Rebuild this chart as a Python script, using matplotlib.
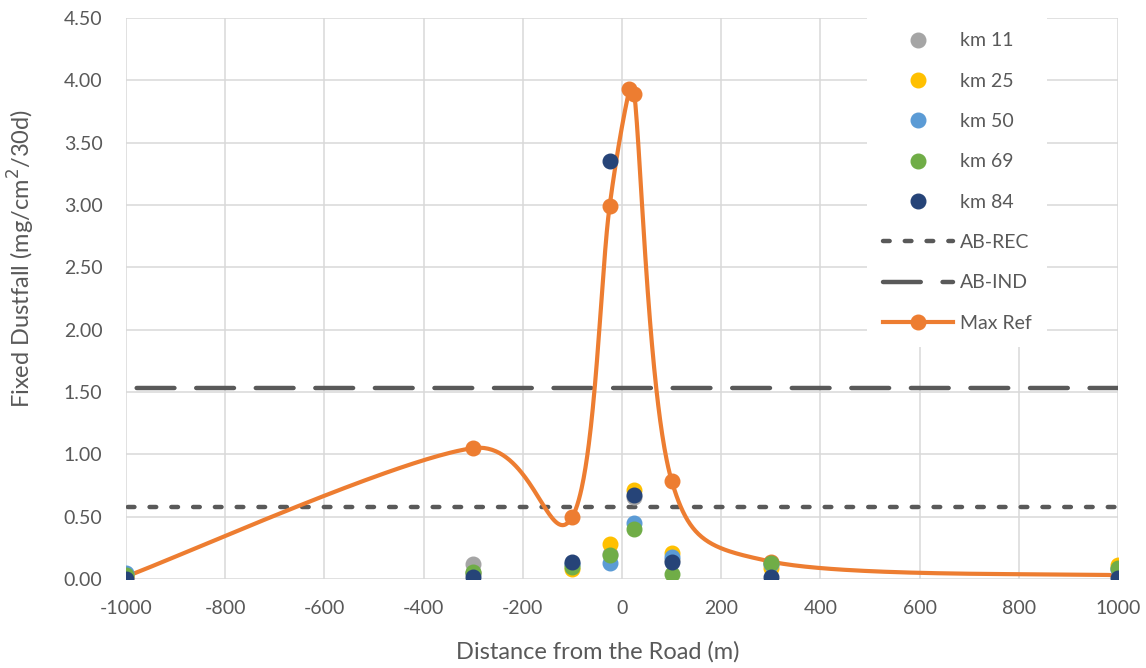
import numpy as np
import matplotlib
matplotlib.use("Agg")
import matplotlib.pyplot as plt
from matplotlib.lines import Line2D

plt.rcParams['font.family'] = ['Lato', 'DejaVu Sans']
plt.rcParams['axes.unicode_minus'] = False

# distances (m)
dist = [-1000, -300, -100, -25, 25, 100, 300, 1000]

km11 = [0.03, 0.12, 0.12, 0.20, 0.66, 0.15, 0.12, 0.08]
km25 = [0.03, 0.05, 0.08, 0.28, 0.71, 0.21, 0.09, 0.11]
km50 = [0.05, 0.05, 0.12, 0.13, 0.45, 0.18, 0.12, 0.08]
km69 = [0.03, 0.06, 0.10, 0.19, 0.40, 0.04, 0.13, 0.09]
km84 = [0.00, 0.02, 0.14, 3.35, 0.67, 0.14, 0.02, 0.01]

ref_x = [-1000, -300, -100, -25, 15, 25, 100, 300, 1000]
ref_y = [0.02, 1.05, 0.50, 2.99, 3.93, 3.89, 0.79, 0.14, 0.03]

ab_rec = 0.58
ab_ind = 1.53

series = [("km 11", km11, "#A5A5A5"), ("km 25", km25, "#FFC000"),
          ("km 50", km50, "#5B9BD5"), ("km 69", km69, "#70AD47"),
          ("km 84", km84, "#264478")]
orange = "#ED7D31"
dark = "#595959"

fig = plt.figure(figsize=(11.46, 6.68), dpi=100)
ax = fig.add_axes([126 / 1146, 1 - 579 / 668, (1118 - 126) / 1146, (579 - 18) / 668])
ax.set_xlim(-1000, 1000)
ax.set_ylim(0, 4.5)
ax.set_xticks(np.arange(-1000, 1001, 200))
ax.set_yticks(np.arange(0, 4.51, 0.5))
ax.yaxis.set_major_formatter(matplotlib.ticker.FormatStrFormatter('%.2f'))
ax.grid(True, color="#D9D9D9", linewidth=1.1)
ax.set_axisbelow(True)
for s in ax.spines.values():
    s.set_visible(False)
ax.tick_params(length=0, labelsize=14, colors=dark)
ax.tick_params(axis='y', pad=17)
ax.tick_params(axis='x', pad=15)
ax.set_xlabel("Distance from the Road (m)", fontsize=17, color=dark)
ax.set_ylabel("Fixed Dustfall (mg/cm$^2$/30d)", fontsize=17, color=dark)
ax.xaxis.set_label_coords(0.476, -0.13)
ax.xaxis.label.set_va('center')
ax.yaxis.set_label_coords(-0.105, 0.572)
ax.yaxis.label.set_va('center')
ax.yaxis.label.set_ha('center')

# smoothed line, computed in display space; control arms capped on short segments
pts = ax.transData.transform(np.column_stack([ref_x, ref_y]))
P = np.vstack([pts[0], pts, pts[-1]])
curve = []
t = np.linspace(0, 1, 80)[:, None]
for i in range(1, len(P) - 2):
    p0, p1, p2, p3 = P[i - 1], P[i], P[i + 1], P[i + 2]
    L1 = np.hypot(*(p2 - p1))
    d1 = (p2 - p0) / 6
    d2 = (p3 - p1) / 6
    n1 = np.hypot(*d1)
    n2 = np.hypot(*d2)
    if n1 > 0.5 * L1:
        d1 = d1 * 0.5 * L1 / n1
    if n2 > 0.5 * L1:
        d2 = d2 * 0.5 * L1 / n2
    c1 = p1 + d1
    c2 = p2 - d2
    seg = ((1 - t) ** 3) * p1 + 3 * ((1 - t) ** 2) * t * c1 + 3 * (1 - t) * t ** 2 * c2 + t ** 3 * p2
    curve.append(seg)
curve = ax.transData.inverted().transform(np.vstack(curve))

lw_dash = 3.2
ax.axhline(ab_rec, color=dark, linewidth=lw_dash, linestyle=(4.5, (1.5, 3.4)),
           dash_capstyle='round', zorder=2)
ax.axhline(ab_ind, color=dark, linewidth=lw_dash, linestyle=(11.0, (8.5, 4.9)),
           dash_capstyle='round', zorder=2)
ax.plot(curve[:, 0], curve[:, 1], color=orange, linewidth=3, zorder=3,
        solid_capstyle='round')
ax.plot(ref_x, ref_y, 'o', color=orange, markersize=10.5, zorder=3)

for name, vals, c in series:
    ax.plot(dist, vals, 'o', color=c, markersize=10.5, zorder=4, label=name)

handles = [Line2D([], [], marker='o', linestyle='none', color=c, markersize=10.5)
           for _, _, c in series]
handles.append(Line2D([], [], color=dark, linewidth=lw_dash, linestyle=(0, (1.5, 3.4)),
                      dash_capstyle='round'))
handles.append(Line2D([], [], color=dark, linewidth=lw_dash, linestyle=(0, (8.5, 4.9)),
                      dash_capstyle='round'))
handles.append(Line2D([], [], color=orange, linewidth=3, marker='o', markersize=10.5))
labels = [n for n, _, _ in series] + ["AB-REC", "AB-IND", "Max Ref"]
leg = ax.legend(handles, labels, loc="upper left", bbox_to_anchor=(0.747, 1.002),
                borderaxespad=0, frameon=True, fancybox=False, edgecolor="none",
                facecolor="white", framealpha=1, fontsize=14, labelspacing=1.2,
                handlelength=3.6, borderpad=0.8, handletextpad=0.36,
                labelcolor=dark)

fig.savefig("out.png", dpi=100)
